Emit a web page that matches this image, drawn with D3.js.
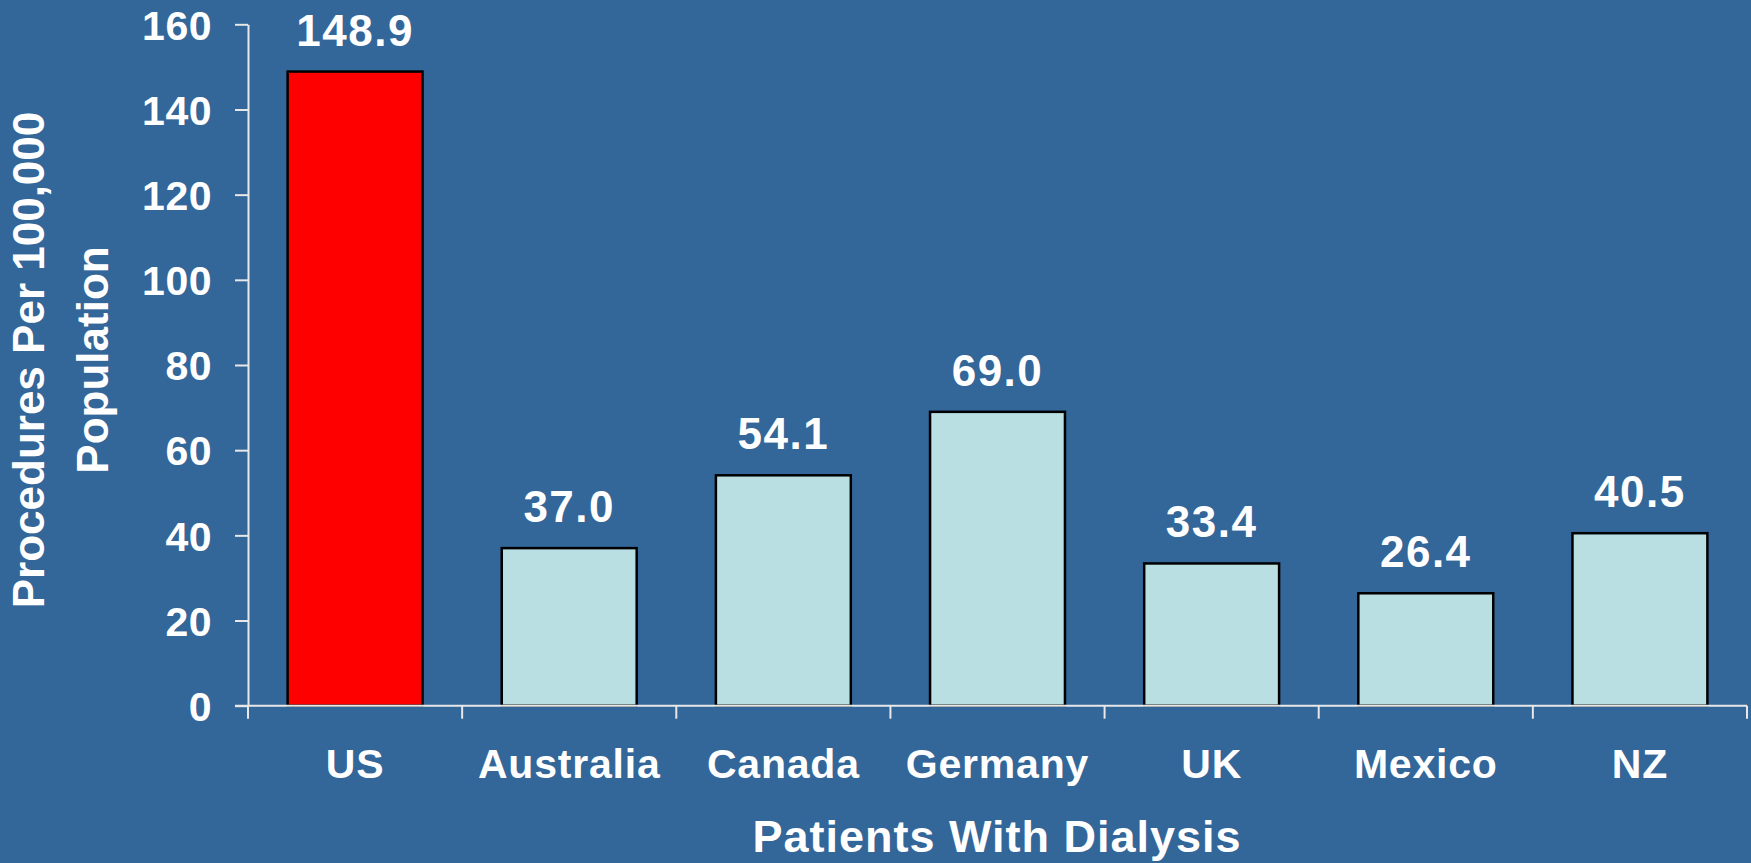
<!DOCTYPE html>
<html>
<head>
<meta charset="utf-8">
<script src="https://cdn.jsdelivr.net/npm/d3@7"></script>
<style>
  html, body { margin: 0; padding: 0; background: #336699; }
  svg { display: block; }
  text { font-family: "Liberation Sans", Arial, sans-serif; font-weight: bold; fill: #ffffff; }
</style>
</head>
<body>
<svg id="chart" width="1751" height="863"></svg>
<script>
const countries = ["US", "Australia", "Canada", "Germany", "UK", "Mexico", "NZ"];
const procedures = [148.9, 37.0, 54.1, 69.0, 33.4, 26.4, 40.5];
const yTicks = [0, 20, 40, 60, 80, 100, 120, 140, 160];
const xTitle = "Patients With Dialysis";
const yTitle = ["Procedures Per 100,000", "Population"];

const svg = d3.select("#chart");
svg.append("rect").attr("width", 1751).attr("height", 863).attr("fill", "#336699");

const plotLeft = 248, plotRight = 1747, plotTop = 24.3, plotBottom = 705.7;

const x = d3.scaleBand()
    .domain(countries)
    .range([plotLeft, plotRight])
    .paddingInner(0.37)
    .paddingOuter(0.185);

const y = d3.scaleLinear()
    .domain([0, 160])
    .range([plotBottom, plotTop]);

// bars
svg.selectAll("rect.bar")
    .data(countries)
    .enter().append("rect")
    .attr("class", "bar")
    .attr("x", d => x(d))
    .attr("y", (d, i) => y(procedures[i]))
    .attr("width", x.bandwidth())
    .attr("height", (d, i) => y(0) - y(procedures[i]))
    .attr("fill", (d, i) => i === 0 ? "#ff0000" : "#b9dfe2")
    .attr("stroke", "#000000")
    .attr("stroke-width", 2.5);

// value labels
svg.selectAll("text.val")
    .data(countries)
    .enter().append("text")
    .attr("class", "val")
    .attr("x", d => x(d) + x.bandwidth() / 2)
    .attr("y", (d, i) => y(procedures[i]) - 26)
    .attr("text-anchor", "middle")
    .attr("font-size", 44)
    .attr("letter-spacing", 1.5)
    .text((d, i) => procedures[i].toFixed(1));

// y axis
const yAxis = svg.append("g")
    .attr("transform", `translate(${plotLeft},0)`)
    .call(d3.axisLeft(y).tickValues(yTicks).tickSize(13).tickPadding(23).tickSizeOuter(0));
yAxis.select(".domain").attr("stroke", "#e8e8e8").attr("stroke-width", 2);
yAxis.selectAll(".tick line").attr("stroke", "#e8e8e8").attr("stroke-width", 2);
yAxis.selectAll(".tick text")
    .attr("font-size", 41)
    .attr("letter-spacing", 0.5)
    .attr("font-family", "Liberation Sans, Arial, sans-serif")
    .attr("font-weight", "bold")
    .attr("fill", "#ffffff")
    .attr("dy", "0.36em");

// x axis: line plus ticks on category boundaries
const step = x.step();
const bounds = countries.map(d => x(d) - (step - x.bandwidth()) / 2);
bounds.push(plotRight);
svg.append("line")
    .attr("x1", plotLeft - 13).attr("x2", plotRight)
    .attr("y1", plotBottom).attr("y2", plotBottom)
    .attr("stroke", "#e8e8e8").attr("stroke-width", 2);
svg.selectAll("line.xtick")
    .data(bounds)
    .enter().append("line")
    .attr("class", "xtick")
    .attr("x1", d => d).attr("x2", d => d)
    .attr("y1", plotBottom).attr("y2", plotBottom + 13)
    .attr("stroke", "#e8e8e8").attr("stroke-width", 2);

// category labels
svg.selectAll("text.cat")
    .data(countries)
    .enter().append("text")
    .attr("class", "cat")
    .attr("x", d => x(d) + x.bandwidth() / 2)
    .attr("y", 778)
    .attr("text-anchor", "middle")
    .attr("font-size", 41)
    .attr("letter-spacing", 0.8)
    .text(d => d);

// axis titles
svg.append("text")
    .attr("x", 997)
    .attr("y", 852)
    .attr("text-anchor", "middle")
    .attr("font-size", 45)
    .attr("letter-spacing", 1)
    .text(xTitle);

svg.selectAll("text.ytitle")
    .data(yTitle)
    .enter().append("text")
    .attr("class", "ytitle")
    .attr("transform", (d, i) => `translate(${44 + i * 64},360) rotate(-90)`)
    .attr("text-anchor", "middle")
    .attr("font-size", 44)
    .text(d => d);
</script>
</body>
</html>
